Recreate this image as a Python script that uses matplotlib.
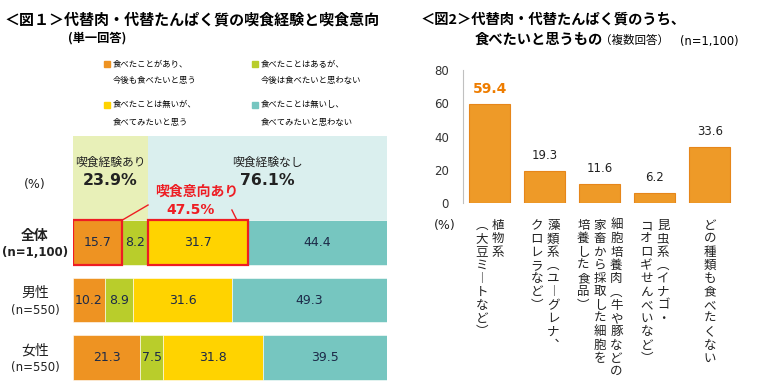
import matplotlib
matplotlib.use("Agg")
import matplotlib.pyplot as plt
from matplotlib.patches import Rectangle

plt.rcParams['font.family'] = ['Noto Sans CJK JP', 'DejaVu Sans']

# ---- fig 1 data ----
groups = ["全体", "男性", "女性"]
group_n = ["(n=1,100)", "(n=550)", "(n=550)"]
ate_again = [15.7, 10.2, 21.3]
ate_not_again = [8.2, 8.9, 7.5]
never_want = [31.7, 31.6, 31.8]
never_not_want = [44.4, 49.3, 39.5]
legend_labels = [
    ["食べたことがあり、", "今後も食べたいと思う"],
    ["食べたことはあるが、", "今後は食べたいと思わない"],
    ["食べたことは無いが、", "食べてみたいと思う"],
    ["食べたことは無いし、", "食べてみたいと思わない"],
]
experienced = 23.9
not_experienced = 76.1
intent_total = 47.5

# ---- fig 2 data ----
# each label is split into vertical columns (right to left)
food_labels = [
    ["植物系", "︵大豆ミ︱トなど︶"],
    ["藻類系︵ユ︱グレナ︑", "クロレラなど︶"],
    ["細胞培養肉︵牛や豚などの", "家畜から採取した細胞を", "培養した食品︶"],
    ["昆虫系︵イナゴ・", "コオロギせんべいなど︶"],
    ["どの種類も食べたくない"],
]
want_pct = [59.4, 19.3, 11.6, 6.2, 33.6]

seg_colors = ["#EE9322", "#B9CD2B", "#FFD300", "#76C6C0"]
band_colors = ["#E8F0B8", "#DAEFEE"]
red = "#EE1D23"
num_font = "DejaVu Sans"

W, H = 760, 392
fig = plt.figure(figsize=(W / 100, H / 100), dpi=100)


def fx(px):
    return px / W


def fy(py):
    return 1 - py / H


# ---- titles ----
fig.text(fx(4), fy(19), "＜図１＞代替肉・代替たんぱく質の喫食経験と喫食意向",
         fontsize=10.8, fontweight="bold", va="center")
fig.text(fx(68), fy(38), "(単一回答)", fontsize=8.8, fontweight="bold", va="center")
fig.text(fx(421), fy(20), "＜図2＞代替肉・代替たんぱく質のうち、",
         fontsize=10.3, fontweight="bold", va="center")
fig.text(fx(475), fy(40), "食べたいと思うもの", fontsize=10.3, fontweight="bold",
         va="center")
fig.text(fx(600), fy(40), "（複数回答）", fontsize=8.3, va="center")
fig.text(fx(680), fy(41), "(n=1,100)", fontsize=8.3, va="center", family=num_font)

# ---- legend ----
leg_pos = [(107, 64), (255, 64), (107, 105), (255, 105)]
for (lx, ly), lines, c in zip(leg_pos, legend_labels, seg_colors):
    fig.patches.append(Rectangle((fx(lx - 3), fy(ly + 3)), 6 / W, 6 / H,
                                 transform=fig.transFigure, color=c))
    fig.text(fx(lx + 6), fy(ly), lines[0], fontsize=6, va="center")
    fig.text(fx(lx + 6), fy(ly + 17), lines[1], fontsize=6, va="center")

# ---- fig 1 stacked bars ----
ax = fig.add_axes([fx(73), fy(385), 314 / W, (385 - 136) / H])
bar_h = 0.78
band_top = -1.852
ax.set_xlim(0, 100)
ax.set_ylim(2.478, band_top)
ax.axis("off")

band_c = (band_top - bar_h / 2) / 2
band_h = -bar_h / 2 - band_top
ax.barh(band_c, experienced, left=0, height=band_h, color=band_colors[0])
ax.barh(band_c, not_experienced, left=experienced, height=band_h, color=band_colors[1])

ypos = range(len(groups))
series = [ate_again, ate_not_again, never_want, never_not_want]
left = [0.0] * len(groups)
for vals, c in zip(series, seg_colors):
    ax.barh(ypos, vals, left=left, height=bar_h, color=c, edgecolor="white",
            linewidth=0.4)
    for i, v in enumerate(vals):
        ax.text(left[i] + v / 2, i, f"{v:.1f}", ha="center", va="center",
                fontsize=9, color="#1C2A48", family=num_font)
    left = [l + v for l, v in zip(left, vals)]

ax.text(experienced / 2, -1.40, "喫食経験あり", ha="center", va="center", fontsize=8.5,
        color="#222222")
ax.text(experienced / 2, -1.07, f"{experienced}%", ha="center", va="center",
        fontsize=11.3, fontweight="bold", color="#222222", family=num_font)
ax.text(experienced + not_experienced / 2, -1.40, "喫食経験なし", ha="center",
        va="center", fontsize=8.5, color="#222222")
ax.text(experienced + not_experienced / 2, -1.07, f"{not_experienced}%", ha="center",
        va="center", fontsize=11.3, fontweight="bold", color="#222222", family=num_font)

# intent highlight
for x0, w in [(0, ate_again[0]), (experienced, never_want[0])]:
    ax.add_patch(Rectangle((x0, -bar_h / 2), w, bar_h, fill=False, edgecolor=red,
                           linewidth=1.6, zorder=5))
ax.plot([ate_again[0], experienced], [-bar_h / 2, -0.652], color=red, lw=1, zorder=5)
ax.plot([50.6, 52.2], [-0.565, -bar_h / 2], color=red, lw=1, zorder=5)
ax.text(39.5, -0.88, "喫食意向あり", ha="center", va="center", fontsize=10,
        fontweight="bold", color=red)
ax.text(37.3, -0.565, f"{intent_total}%", ha="center", va="center", fontsize=10,
        fontweight="bold", color=red, family=num_font)

# row labels
ax.text(-12.1, -1.0, "(%)", ha="center", va="center", fontsize=9, color="#222222",
        family=num_font, clip_on=False)
for i, (g, n) in enumerate(zip(groups, group_n)):
    wt = "bold" if i == 0 else "normal"
    ax.text(-12.1, i - 0.12, g, ha="center", va="center", fontsize=10,
            fontweight=wt, color="#222222", clip_on=False)
    ax.text(-12.1, i + 0.18, n, ha="center", va="center", fontsize=8.5,
            fontweight=wt, color="#222222", family=num_font, clip_on=False)

# ---- fig 2 bars ----
ax2 = fig.add_axes([fx(463), fy(203), (745 - 463) / W, (203 - 70) / H])
xs = range(len(want_pct))
ax2.bar(xs, want_pct, width=0.745, color="#EE9A28", edgecolor="#E6861A", linewidth=0.8)
ax2.set_xlim(-0.49, 4.64)
ax2.set_ylim(0, 80)
ax2.set_yticks([0, 20, 40, 60, 80])
ax2.set_xticks([])
for s in ["top", "right", "bottom"]:
    ax2.spines[s].set_visible(False)
ax2.spines["left"].set_color("#C0C0C0")
ax2.tick_params(axis="y", length=0, pad=10, labelsize=8.5, labelcolor="#333333")
for lab in ax2.get_yticklabels():
    lab.set_family(num_font)

for i, v in enumerate(want_pct):
    first = i == 0
    ax2.annotate(f"{v:.1f}", xy=(i, v), xytext=(0, 11), textcoords="offset points",
                 ha="center", va="center", family=num_font,
                 fontsize=10 if first else 8.5,
                 fontweight="bold" if first else "normal",
                 color="#EE7D00" if first else "#222222")

fig.text(fx(445), fy(225), "(%)", ha="center", va="center", fontsize=9,
         color="#222222", family=num_font)

# vertical category labels
col_pitch = 16.5
char_pitch = 13.3
for i, cols in enumerate(food_labels):
    nc = len(cols)
    for j, col in enumerate(cols):
        dx = ((nc - 1) / 2 - j) * col_pitch
        for k, ch in enumerate(col):
            dy = -(15 + 11 + char_pitch * k)
            ax2.annotate(ch, xy=(i, 0), xytext=(dx * 0.72, dy * 0.72),
                         textcoords="offset points", ha="center", va="baseline",
                         fontsize=9, color="#222222", annotation_clip=False)

fig.savefig("out.png", dpi=100)
